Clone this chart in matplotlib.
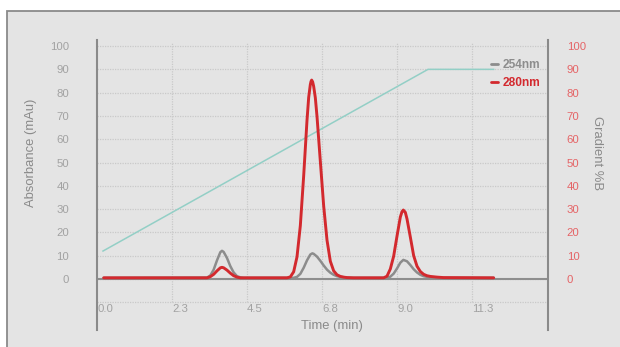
import matplotlib
matplotlib.use("Agg")
import matplotlib.pyplot as plt
from matplotlib.patches import Rectangle

plt.rcParams['font.family'] = ['Liberation Sans', 'DejaVu Sans']

# ---- data ----
time_254 = [0.2, 3.3, 3.4, 3.5, 3.6, 3.7, 3.75, 3.8, 3.9, 4.0, 4.1, 4.2, 4.3, 4.4,
            5.9, 6.0, 6.1, 6.2, 6.3, 6.4, 6.46, 6.5, 6.6, 6.7, 6.8, 6.9, 7.0, 7.1, 7.2, 7.3, 7.5, 7.7,
            8.7, 8.8, 8.9, 9.0, 9.1, 9.19, 9.3, 9.4, 9.5, 9.6, 9.7, 9.8, 9.9, 10.0, 10.2, 11.9]
abs_254 = [0.5, 0.6, 1.5, 4.0, 8.0, 11.5, 12.1, 11.6, 9.0, 5.5, 2.8, 1.2, 0.7, 0.5,
           0.5, 0.9, 2.2, 4.8, 8.0, 10.5, 11.0, 10.8, 9.6, 7.8, 5.8, 4.0, 2.7, 1.8, 1.2, 0.9, 0.6, 0.5,
           0.5, 1.0, 2.3, 4.5, 7.0, 8.2, 7.6, 6.0, 4.2, 2.8, 1.8, 1.2, 0.9, 0.7, 0.5, 0.5]

time_280 = [0.2, 3.3, 3.4, 3.5, 3.6, 3.7, 3.75, 3.8, 3.9, 4.0, 4.1, 4.2, 4.3,
            5.7, 5.8, 5.9, 6.0, 6.1, 6.2, 6.3, 6.35, 6.4, 6.42, 6.44, 6.47, 6.5, 6.55, 6.6, 6.7, 6.8, 6.9,
            7.0, 7.1, 7.2, 7.3, 7.4, 7.5, 7.7,
            8.6, 8.7, 8.8, 8.9, 9.0, 9.1, 9.15, 9.19, 9.25, 9.3, 9.4, 9.5, 9.6, 9.7, 9.8, 9.9,
            10.0, 10.2, 10.4, 11.9]
abs_280 = [0.5, 0.5, 1.0, 2.0, 3.5, 4.8, 5.0, 4.8, 3.8, 2.5, 1.4, 0.8, 0.5,
           0.5, 0.9, 3.1, 9.5, 22.9, 44.2, 68.1, 77.9, 83.5, 84.8, 85.4, 84.6, 82.7, 77.8, 69.8, 50.5, 31.4, 16.7,
           7.6, 3.5, 1.8, 1.1, 0.8, 0.6, 0.5,
           0.5, 1.2, 4.3, 9.8, 18.4, 26.6, 28.9, 29.6, 28.6, 25.8, 18.0, 10.0, 5.5, 3.2, 2.0, 1.4,
           1.1, 0.8, 0.6, 0.5]

time_grad = [0.18, 9.93, 11.9]
grad_pct = [12.0, 90.0, 90.0]

x_ticks = [0.0, 2.25, 4.5, 6.75, 9.0, 11.25]
x_tick_labels = ["0.0", "2.3", "4.5", "6.8", "9.0", "11.3"]
y_ticks = list(range(0, 101, 10))
grid_y = list(range(-10, 101, 10))

series_labels = ["254nm", "280nm"]

# ---- style ----
BG = "#e4e4e4"
GRAY = "#8c8c8c"
RED = "#d3292e"
TEAL = "#93cfc6"
TICK_GRAY = "#a2a2a2"
TICK_RED = "#e46466"
GRID = "#c9c9c9"

W, H = 620, 347
fig = plt.figure(figsize=(W / 100, H / 100), dpi=100)
fig.patch.set_facecolor("white")
bg = Rectangle((7 / W, -0.05), 1.2, (H - 11) / H + 0.05,
               transform=fig.transFigure, facecolor=BG,
               edgecolor="#8a8a8a", linewidth=1.3, clip_on=False, zorder=-10)
fig.add_artist(bg)

ax = fig.add_axes([97 / W, 1 - 330 / H, 451 / W, 290 / H])
ax.set_facecolor("none")
ax.set_xlim(0, 13.53)
ax.set_ylim(-21.9, 102.6)

for s in ["top", "bottom"]:
    ax.spines[s].set_visible(False)
for s in ["left", "right"]:
    ax.spines[s].set_color("#8a8a8a")
    ax.spines[s].set_linewidth(1.5)

# grid
for gy in grid_y:
    ax.axhline(gy, color=GRID, lw=0.9, ls=(0, (1, 1)), zorder=1)
for xt in x_ticks[1:]:
    ax.plot([xt, xt], [-10, 101.5], color=GRID, lw=0.9, ls=(0, (1, 1)), zorder=1)

ax.axhline(0, color="#8e8e8e", lw=1.5, zorder=2)

ax.plot(time_grad, grad_pct, color=TEAL, lw=1.1, zorder=3)
l1, = ax.plot(time_254, abs_254, color=GRAY, lw=1.8, zorder=4, label=series_labels[0],
              solid_capstyle="round", solid_joinstyle="round")
l2, = ax.plot(time_280, abs_280, color=RED, lw=2.1, zorder=5, label=series_labels[1],
              solid_capstyle="round", solid_joinstyle="round")

ax.set_xticks([])
for xt, lab in zip(x_ticks, x_tick_labels):
    ax.text(xt, -12.9, lab, ha="left", va="center", fontsize=8.2, color=TICK_GRAY)

ax.set_yticks(y_ticks)
ax.tick_params(axis="y", length=0, pad=20, labelsize=8.2, labelcolor=TICK_GRAY)

ax2 = ax.twinx()
ax2.set_ylim(ax.get_ylim())
ax2.set_yticks(y_ticks)
ax2.tick_params(axis="y", length=0, pad=13.5, labelsize=8.2, labelcolor=TICK_RED)
for s in ["top", "bottom", "left", "right"]:
    ax2.spines[s].set_visible(False)

fig.text(31 / W, 1 - 152.5 / H, "Absorbance (mAu)", rotation=90, ha="center", va="center",
         fontsize=9.4, color="#8a8a8a")
fig.text(331.5 / W, 1 - 326.5 / H, "Time (min)", ha="center", va="center",
         fontsize=9.4, color="#8a8a8a")
fig.text(597 / W, 1 - 153 / H, "Gradient %B", rotation=-90, ha="center", va="center",
         fontsize=9.4, color="#8a8a8a")

leg = ax.legend(handles=[l1, l2], loc="upper right", bbox_to_anchor=(1.0, 0.96),
                frameon=False, handlelength=0.6, handletextpad=0.4, labelspacing=0.55,
                prop={"size": 8.6, "weight": "bold"}, borderaxespad=0.2)
for txt, c in zip(leg.get_texts(), [GRAY, RED]):
    txt.set_color(c)
for h in leg.legend_handles:
    h.set_linewidth(2.0)

fig.savefig("out.png", dpi=100, facecolor=fig.get_facecolor())
